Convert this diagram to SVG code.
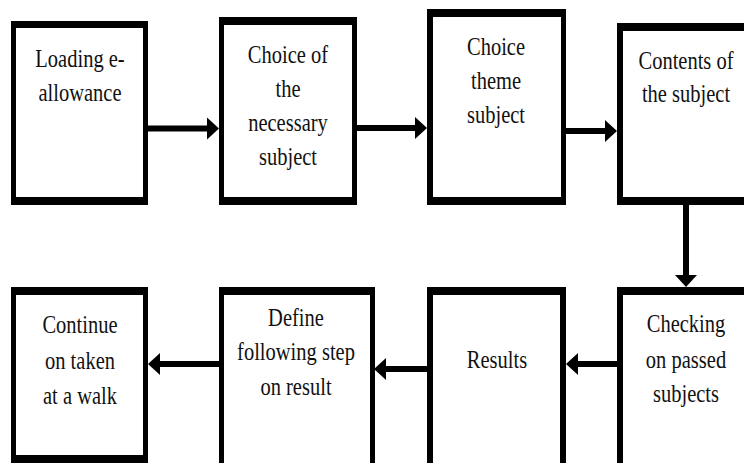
<svg xmlns="http://www.w3.org/2000/svg" width="744" height="463" viewBox="0 0 744 463">
  <style>
    .frame { fill: #000; }
    .inner { fill: #fff; }
    .lbl { font-size: 25px; fill: #111; text-anchor: middle; }
    .conn { stroke: #000; stroke-width: 6; fill: none; marker-end: url(#ah); }
  </style>
  <defs>
    <marker id="ah" markerUnits="userSpaceOnUse" markerWidth="13" markerHeight="22" refX="0" refY="11" orient="auto" overflow="visible">
      <path d="M0,0 L12,11 L0,22 Z" fill="#000"/>
    </marker>
  </defs>
  <rect width="744" height="463" fill="#fff"/>

  <g id="n1">
    <rect class="frame" x="11" y="21" width="137" height="184"/>
    <rect class="inner" x="16" y="28" width="127" height="169"/>
    <text class="lbl" font-family="Liberation Serif" transform="translate(80,0) scale(0.82,1)"><tspan x="0" y="67">Loading e-</tspan><tspan x="0" y="101">allowance</tspan></text>
  </g>
  <g id="n2">
    <rect class="frame" x="219" y="17" width="138" height="188"/>
    <rect class="inner" x="224" y="25" width="128" height="172"/>
    <text class="lbl" font-family="Liberation Serif" transform="translate(288,0) scale(0.82,1)"><tspan x="0" y="63">Choice of</tspan><tspan x="0" y="97">the</tspan><tspan x="0" y="131">necessary</tspan><tspan x="0" y="165">subject</tspan></text>
  </g>
  <g id="n3">
    <rect class="frame" x="427" y="9" width="139" height="196"/>
    <rect class="inner" x="433" y="17" width="128" height="180"/>
    <text class="lbl" font-family="Liberation Serif" transform="translate(496,0) scale(0.82,1)"><tspan x="0" y="55">Choice</tspan><tspan x="0" y="89">theme</tspan><tspan x="0" y="123">subject</tspan></text>
  </g>
  <g id="n4">
    <rect class="frame" x="617" y="23" width="140" height="182"/>
    <rect class="inner" x="623" y="31" width="128" height="166"/>
    <text class="lbl" font-family="Liberation Serif" transform="translate(686,0) scale(0.82,1)"><tspan x="0" y="69">Contents of</tspan><tspan x="0" y="102">the subject</tspan></text>
  </g>
  <g id="n5">
    <rect class="frame" x="11" y="287" width="137" height="180"/>
    <rect class="inner" x="16" y="295" width="127" height="160"/>
    <text class="lbl" font-family="Liberation Serif" transform="translate(80,0) scale(0.82,1)"><tspan x="0" y="333">Continue</tspan><tspan x="0" y="369">on taken</tspan><tspan x="0" y="404">at a walk</tspan></text>
  </g>
  <g id="n6">
    <rect class="frame" x="219" y="287" width="156" height="190"/>
    <rect class="inner" x="224" y="295" width="146" height="190"/>
    <text class="lbl" font-family="Liberation Serif" transform="translate(296,0) scale(0.82,1)"><tspan x="0" y="326">Define</tspan><tspan x="0" y="360">following step</tspan><tspan x="0" y="395">on result</tspan></text>
  </g>
  <g id="n7">
    <rect class="frame" x="427" y="287" width="139" height="190"/>
    <rect class="inner" x="433" y="295" width="127" height="190"/>
    <text class="lbl" font-family="Liberation Serif" transform="translate(497,0) scale(0.82,1)"><tspan x="0" y="368">Results</tspan></text>
  </g>
  <g id="n8">
    <rect class="frame" x="617" y="287" width="140" height="190"/>
    <rect class="inner" x="623" y="295" width="128" height="190"/>
    <text class="lbl" font-family="Liberation Serif" transform="translate(686,0) scale(0.82,1)"><tspan x="0" y="332">Checking</tspan><tspan x="0" y="368">on passed</tspan><tspan x="0" y="402">subjects</tspan></text>
  </g>

  <g id="connectors">
    <path class="conn" d="M148,128.5 H207"/>
    <path class="conn" d="M357,128 H415"/>
    <path class="conn" d="M566,131 H605"/>
    <path class="conn" d="M686,205 V275"/>
    <path class="conn" d="M617,364 H578"/>
    <path class="conn" d="M427,369 H386"/>
    <path class="conn" d="M219,364 H160"/>
  </g>
</svg>
